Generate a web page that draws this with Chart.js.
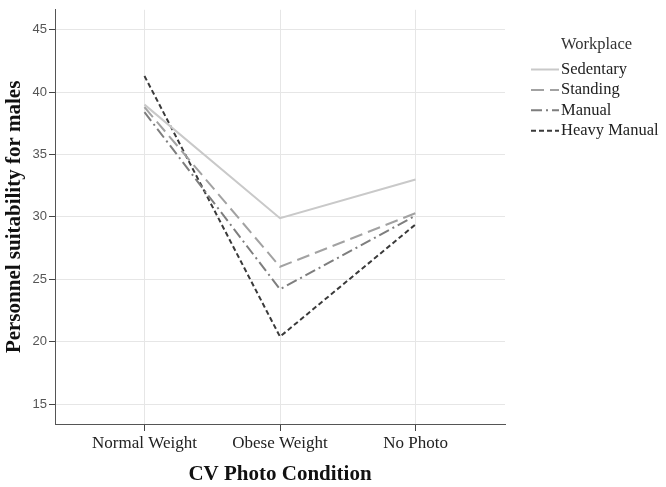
<!DOCTYPE html>
<html>
<head>
<meta charset="utf-8">
<script src="https://cdn.jsdelivr.net/npm/chart.js@4"></script>
<style>
  html, body { margin: 0; padding: 0; background: #fff; }
  #wrap { width: 666px; height: 487px; }
</style>
</head>
<body>
<div id="wrap"><canvas id="lineChart" width="666" height="487"></canvas></div>
<script>
const conditions = ['Normal Weight', 'Obese Weight', 'No Photo'];
const workplaces = ['Sedentary', 'Standing', 'Manual', 'Heavy Manual'];
const sedentary = [39.0, 29.9, 33.0];
const standing = [38.8, 26.0, 30.3];
const manual = [38.4, 24.2, 30.1];
const heavyManual = [41.3, 20.4, 29.4];
const yTicks = [15, 20, 25, 30, 35, 40, 45];

const seriesValues = [sedentary, standing, manual, heavyManual];
const lineColors = ['#c9c9c9', '#a2a2a2', '#7e7e7e', '#3a3a3a'];
const lineDashes = [[], [13, 6], [11, 4, 2, 4], [5, 3]];

const toPoints = values => values.map((v, i) => ({ x: i, y: v }));

const datasets = workplaces.map((name, i) => ({
  label: name,
  data: toPoints(seriesValues[i]),
  borderColor: lineColors[i],
  backgroundColor: lineColors[i],
  borderDash: lineDashes[i],
  borderWidth: 2,
  pointRadius: 0,
  tension: 0,
  fill: false
}));

// legend drawn by hand so it can sit where the SPSS one does
const sideLegend = {
  id: 'sideLegend',
  afterDraw(chart) {
    const c = chart.ctx;
    c.save();
    c.textBaseline = 'middle';
    c.textAlign = 'left';
    c.fillStyle = '#333';
    c.font = '16.5px "Liberation Serif"';
    c.fillText('Workplace', 561, 45);
    chart.data.datasets.forEach((ds, i) => {
      const y = 69.5 + i * 20.4;
      c.beginPath();
      c.strokeStyle = ds.borderColor;
      c.lineWidth = ds.borderWidth;
      c.setLineDash(ds.borderDash);
      c.moveTo(531, y);
      c.lineTo(559, y);
      c.stroke();
      c.setLineDash([]);
      c.fillStyle = '#222';
      c.fillText(ds.label, 561, y);
    });
    c.restore();
  }
};

const ctx = document.getElementById('lineChart').getContext('2d');
new Chart(ctx, {
  type: 'line',
  data: { datasets },
  plugins: [sideLegend],
  options: {
    responsive: false,
    animation: false,
    layout: { padding: { top: 7, left: 0, right: 161, bottom: 0 } },
    scales: {
      x: {
        type: 'linear',
        min: -0.66,
        max: 2.66,
        afterBuildTicks: axis => { axis.ticks = conditions.map((c, i) => ({ value: i })); },
        afterFit: axis => { axis.height = 63; },
        ticks: {
          callback: value => conditions[value] || '',
          color: '#222',
          font: { family: 'Liberation Serif', size: 17 },
          padding: 2,
          maxRotation: 0
        },
        grid: { color: '#e6e6e6', tickColor: '#444', tickLength: 7 },
        border: { color: '#555', width: 1 },
        title: {
          display: true,
          text: 'CV Photo Condition',
          color: '#111',
          font: { family: 'Liberation Serif', size: 21, weight: 'bold' },
          padding: { top: 4, bottom: 0 }
        }
      },
      y: {
        min: 13.4,
        max: 46.6,
        afterBuildTicks: axis => { axis.ticks = yTicks.map(v => ({ value: v })); },
        afterFit: axis => { axis.width = 55; },
        ticks: {
          color: '#555',
          font: { family: 'Liberation Sans', size: 13 },
          padding: 2
        },
        grid: { color: '#e6e6e6', tickColor: '#444', tickLength: 6 },
        border: { color: '#555', width: 1 },
        title: {
          display: true,
          text: 'Personnel suitability for males',
          color: '#111',
          font: { family: 'Liberation Serif', size: 21, weight: 'bold' },
          padding: { top: 2, bottom: 0 }
        }
      }
    },
    plugins: {
      legend: { display: false },
      tooltip: { enabled: false }
    }
  }
});
</script>
</body>
</html>
